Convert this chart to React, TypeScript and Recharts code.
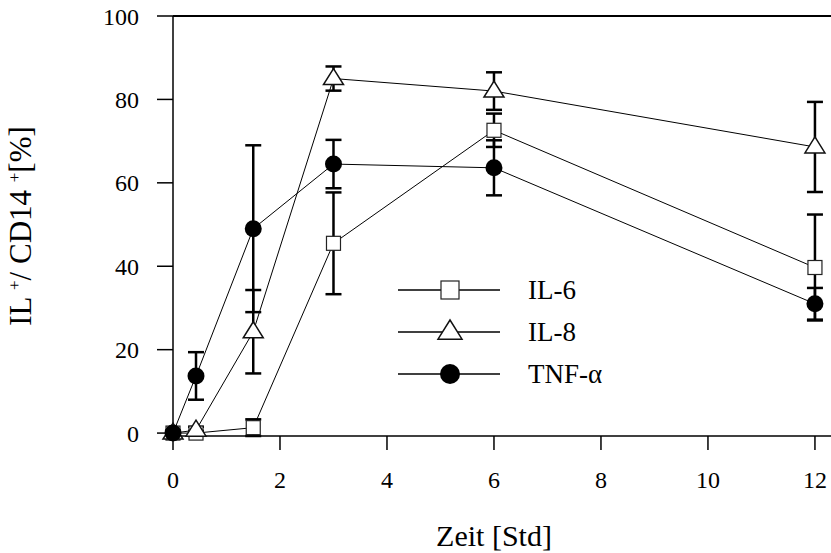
import React from "react";
import { LineChart, Line, XAxis, YAxis, ErrorBar, ReferenceLine, Legend, Label } from "recharts";

const hours = [0, 0.43, 1.5, 3, 6, 12];
const il6 = [0, 0, 1.3, 45.5, 72.6, 39.7];
const il6Err = [0.5, 0.5, 2, 12.2, 4, 12.7];
const il8 = [0, 0.7, 24.3, 85, 82, 68.6];
const il8Err = [0.5, 0.8, 10, 2.9, 4.5, 10.8];
const tnf = [0, 13.7, 49, 64.5, 63.6, 31];
const tnfErr = [0.5, 5.7, 20, 5.8, 6.6, 3.8];
const xTicks = [0, 2, 4, 6, 8, 10, 12];
const yTicks = [0, 20, 40, 60, 80, 100];
const seriesNames = ["IL-6", "IL-8", "TNF-α"];

const data = hours.map((h, i) => ({
  h,
  il6: il6[i],
  il6Err: il6Err[i],
  il8: il8[i],
  il8Err: il8Err[i],
  tnf: tnf[i],
  tnfErr: tnfErr[i],
}));

const FONT = '"Liberation Serif", "Times New Roman", Times, "DejaVu Serif", serif';
const fontStyle = { fontFamily: FONT };

const Square = ({ cx, cy, s = 7 }: any) => (
  <rect x={cx - s} y={cy - s} width={s * 2} height={s * 2} fill="#fff" stroke="#222" strokeWidth={1.2} />
);
const Triangle = ({ cx, cy, s = 10 }: any) => (
  <polygon
    points={`${cx},${cy - s} ${cx + s},${cy + s * 0.6} ${cx - s},${cy + s * 0.6}`}
    fill="#fff"
    stroke="#111"
    strokeWidth={1.5}
  />
);
const Dot = ({ cx, cy, r = 8.5 }: any) => <circle cx={cx} cy={cy} r={r} fill="#000" />;

const markers = [Square, Triangle, Dot];

function LegendBox() {
  return (
    <svg width={240} height={130} style={{ display: "block" }}>
      {seriesNames.map((name, i) => {
        const y = 22 + i * 42;
        const M = markers[i];
        return (
          <g key={name}>
            <line x1={3} x2={105} y1={y} y2={y} stroke="#000" strokeWidth={1.5} />
            {i === 0 && <M cx={55} cy={y} s={9} />}
            {i === 1 && <M cx={55} cy={y} s={12} />}
            {i === 2 && <M cx={55} cy={y} r={10} />}
            <text x={133} y={y + 9} fontSize={27} style={fontStyle} fill="#000">
              {name}
            </text>
          </g>
        );
      })}
    </svg>
  );
}

const YTitle = () => (
  <text
    x={31}
    y={226}
    transform="rotate(-90, 31, 226)"
    textAnchor="middle"
    fontSize={31}
    style={fontStyle}
    fill="#000"
  >
    IL <tspan dy={-11} fontSize={17}>+</tspan>
    <tspan dy={11}>/ CD14 </tspan>
    <tspan dy={-11} fontSize={17}>+</tspan>
    <tspan dy={11}>[%]</tspan>
  </text>
);

const tick = { fill: "#000", fontSize: 24, style: fontStyle };

export default function App() {
  return (
    <div style={{ position: "absolute", left: 0, top: 0, background: "#fff", fontFamily: FONT }}>
      <LineChart
        width={831}
        height={553}
        data={data}
        margin={{ top: 16, right: 0, bottom: 57, left: 93 }}
        style={fontStyle}
      >
        <XAxis
          dataKey="h"
          type="number"
          domain={[0, 12.3]}
          ticks={xTicks}
          tickSize={14}
          tickMargin={21}
          tick={tick}
          stroke="#000"
          strokeWidth={1.5}
          height={60}
        >
          <Label value="Zeit [Std]" position="bottom" offset={29} dx={-8} fontSize={30} fill="#000" style={fontStyle} />
        </XAxis>
        <YAxis
          type="number"
          domain={[0, 100]}
          ticks={yTicks}
          tickSize={16}
          tickMargin={18}
          tick={tick}
          stroke="#000"
          strokeWidth={1.5}
          width={80}
        >
          <Label content={() => <YTitle />} />
        </YAxis>
        <ReferenceLine y={100} stroke="#000" strokeWidth={2} />
        <Legend
          layout="horizontal"
          verticalAlign="middle"
          align="center"
          content={() => <LegendBox />}
          wrapperStyle={{ position: "absolute", left: 395, top: 268, width: 240 }}
        />
        <Line
          dataKey="il6"
          type="linear"
          stroke="#000"
          strokeWidth={1}
          isAnimationActive={false}
          activeDot={false}
          dot={(p: any) => <Square key={`s${p.index}`} cx={p.cx} cy={p.cy} />}
        >
          <ErrorBar dataKey="il6Err" direction="y" width={8} stroke="#000" strokeWidth={2.5} />
        </Line>
        <Line
          dataKey="il8"
          type="linear"
          stroke="#000"
          strokeWidth={1}
          isAnimationActive={false}
          activeDot={false}
          dot={(p: any) => <Triangle key={`t${p.index}`} cx={p.cx} cy={p.cy} />}
        >
          <ErrorBar dataKey="il8Err" direction="y" width={8} stroke="#000" strokeWidth={2.5} />
        </Line>
        <Line
          dataKey="tnf"
          type="linear"
          stroke="#000"
          strokeWidth={1}
          isAnimationActive={false}
          activeDot={false}
          dot={(p: any) => <Dot key={`c${p.index}`} cx={p.cx} cy={p.cy} />}
        >
          <ErrorBar dataKey="tnfErr" direction="y" width={8} stroke="#000" strokeWidth={2.5} />
        </Line>
      </LineChart>
    </div>
  );
}
